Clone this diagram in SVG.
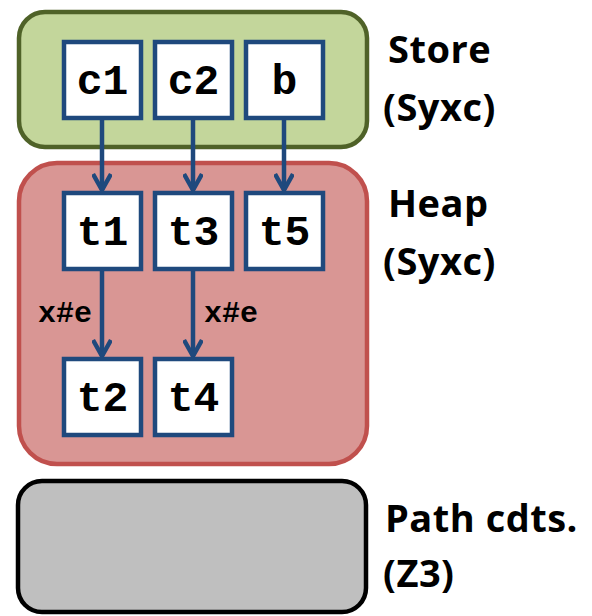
<svg xmlns="http://www.w3.org/2000/svg" width="592" height="616" viewBox="0 0 592 616">
<defs>
<style>
.node rect{fill:#fff;stroke:#1F497D;stroke-width:4.5}
.node text{font-family:"Liberation Mono",monospace;font-weight:bold;font-size:43px;text-anchor:middle;fill:#000}
.lbl{font-family:"Open Sans","Noto Sans",sans-serif;font-weight:700;font-size:38px;letter-spacing:0.5px;fill:#000}
.conn line{stroke:#1F497D;stroke-width:4.5;fill:none}
.elbl{font-family:"Liberation Mono",monospace;font-weight:bold;font-size:30px;fill:#000}
</style>
<marker id="ah" viewBox="0 0 20 20" refX="18" refY="10" markerWidth="20" markerHeight="20" markerUnits="userSpaceOnUse" orient="auto">
<path d="M2,1 L18,10 L2,19" fill="none" stroke="#1F497D" stroke-width="4.5" stroke-linejoin="miter"/>
</marker>
</defs>
<g id="store"><rect x="19" y="12" width="348" height="135" rx="26" fill="#C3D69B" stroke="#4F6228" stroke-width="4.5"/></g>
<g id="heap"><rect x="19" y="163" width="348" height="301" rx="38" fill="#D99694" stroke="#C0504D" stroke-width="4.5"/></g>
<g id="path"><rect x="18" y="481" width="348" height="131" rx="24" fill="#BFBFBF" stroke="#000" stroke-width="4.5"/></g>
<g class="conn">
<line x1="102" y1="118" x2="102" y2="190" marker-end="url(#ah)"/>
<line x1="193" y1="118" x2="193" y2="190" marker-end="url(#ah)"/>
<line x1="284" y1="118" x2="284" y2="190" marker-end="url(#ah)"/>
<line x1="102" y1="269" x2="102" y2="356" marker-end="url(#ah)"/>
<line x1="193" y1="269" x2="193" y2="356" marker-end="url(#ah)"/>
</g>
<text class="elbl" x="38" y="322">x#e</text>
<text class="elbl" x="204" y="322">x#e</text>
<g id="c1" class="node"><rect x="64" y="42" width="77" height="76"/><text x="102.5" y="94">c1</text></g>
<g id="c2" class="node"><rect x="155" y="42" width="77" height="76"/><text x="193.5" y="94">c2</text></g>
<g id="b" class="node"><rect x="246" y="42" width="77" height="76"/><text x="284.5" y="94">b</text></g>
<g id="t1" class="node"><rect x="64" y="193" width="77" height="76"/><text x="102.5" y="245">t1</text></g>
<g id="t3" class="node"><rect x="155" y="193" width="77" height="76"/><text x="193.5" y="245">t3</text></g>
<g id="t5" class="node"><rect x="246" y="193" width="77" height="76"/><text x="284.5" y="245">t5</text></g>
<g id="t2" class="node"><rect x="64" y="359" width="77" height="76"/><text x="102.5" y="411">t2</text></g>
<g id="t4" class="node"><rect x="155" y="359" width="77" height="76"/><text x="193.5" y="411">t4</text></g>
<text class="lbl" x="388" y="63">Store</text>
<text class="lbl" x="383" y="121">(Syxc)</text>
<text class="lbl" x="388" y="217">Heap</text>
<text class="lbl" x="383" y="275">(Syxc)</text>
<text class="lbl" x="385" y="532">Path cdts.</text>
<text class="lbl" x="383" y="587">(Z3)</text>
</svg>
